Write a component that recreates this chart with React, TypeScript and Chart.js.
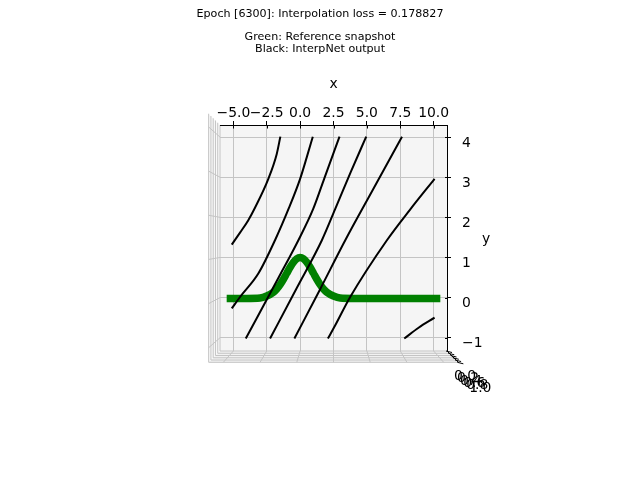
import React, { useEffect, useRef } from "react";
import { Chart, registerables } from "chart.js";

Chart.register(...registerables);

const titleText = "Epoch [6300]: Interpolation loss = 0.178827";
const subtitleLines = ["Green: Reference snapshot", "Black: InterpNet output"];

const xTicks = [-5, -2.5, 0, 2.5, 5, 7.5, 10];
const yTicks = [-1, 0, 1, 2, 3, 4];
const zTicks = ["0.0", "0.2", "0.4", "0.6", "0.8", "1.0"];
const zLevels = [0, 0.2, 0.4, 0.6, 0.8, 1.0];

// Green: reference snapshot
const refX = [-5.5, -4, -3, -2.5, -2, -1.75, -1.5, -1.25, -1, -0.75, -0.5, -0.25, 0, 0.25, 0.5, 0.75, 1, 1.25, 1.5, 1.75, 2, 2.5, 3, 4, 10.5];
const refY = [-0.02, -0.02, -0.01, 0.04, 0.135, 0.216, 0.325, 0.458, 0.607, 0.755, 0.882, 0.969, 1, 0.969, 0.882, 0.755, 0.607, 0.458, 0.325, 0.216, 0.135, 0.04, -0.01, -0.02, -0.02];

// Black: InterpNet output curves
const curveAX = [-5.12, -4.5, -3.88, -3.38, -2.38, -1.75, -1.48];
const curveAY = [1.32, 1.62, 1.93, 2.24, 2.96, 3.58, 4.01];
const curveBX = [-5.12, -4.5, -3.13, -1.88, -0.83, 0, 0.5, 0.95];
const curveBY = [-0.27, 0.015, 0.6, 1.43, 2.24, 2.96, 3.5, 4.01];
const curveCX = [-4.07, -1.61, -0.13, 0.98, 1.8, 2.95];
const curveCY = [-1.02, 0.5, 1.43, 2.21, 2.96, 4.01];
const curveDX = [-2.25, -0.3, 1.63, 2.63, 3.78, 4.95];
const curveDY = [-1.02, 0.21, 1.43, 2.21, 3.12, 4.01];
const curveEX = [-0.43, 1.5, 3.38, 5.5, 7.63];
const curveEY = [-1.02, 0.21, 1.43, 2.72, 4.01];
const curveFX = [2.08, 2.63, 3.75, 6.5, 8.25, 10.07];
const curveFY = [-1.02, -0.69, 0.015, 1.43, 2.2, 2.96];
const curveGX = [7.8, 8.87, 10.07];
const curveGY = [-1.02, -0.75, -0.5];

const blackCurves = [
  [curveAX, curveAY],
  [curveBX, curveBY],
  [curveCX, curveCY],
  [curveDX, curveDY],
  [curveEX, curveEY],
  [curveFX, curveFY],
  [curveGX, curveGY],
];

const FONT = "DejaVu Sans";
const TICK_SIZE = 13.9;
const TITLE_SIZE = 11.1;

const fmtMinus = (v: number, digits: number) => {
  const s = v.toFixed(digits);
  return s.startsWith("-") ? "\u2212" + s.slice(1) : s;
};

const box3d = {
  id: "box3d",
  beforeDraw(chart: any) {
    const { ctx, chartArea: a } = chart;
    const cx = (a.left + a.right) / 2;
    const cy = (a.top + a.bottom) / 2;
    const sc = (v: number, c: number, s: number) => c + (v - c) * s;
    const S = 1.1;
    const L1 = sc(a.left, cx, S), R1 = sc(a.right, cx, S);
    const T1 = sc(a.top, cy, S), B1 = sc(a.bottom, cy, S);
    ctx.save();
    ctx.fillStyle = "#f9f9f9";
    ctx.beginPath();
    ctx.moveTo(a.left, a.top);
    ctx.lineTo(L1, T1);
    ctx.lineTo(L1, B1);
    ctx.lineTo(a.left, a.bottom);
    ctx.closePath();
    ctx.fill();
    ctx.fillStyle = "#f2f2f2";
    ctx.beginPath();
    ctx.moveTo(a.left, a.bottom);
    ctx.lineTo(L1, B1);
    ctx.lineTo(R1, B1);
    ctx.lineTo(a.right, a.bottom);
    ctx.closePath();
    ctx.fill();
    ctx.fillStyle = "#f5f5f5";
    ctx.fillRect(a.left, a.top, a.right - a.left, a.bottom - a.top);
    ctx.strokeStyle = "#c4c4c4";
    ctx.lineWidth = 1;
    zLevels.forEach((t) => {
      const s = 1 + (S - 1) * t;
      ctx.beginPath();
      ctx.moveTo(sc(a.left, cx, s), sc(a.top, cy, s));
      ctx.lineTo(sc(a.left, cx, s), sc(a.bottom, cy, s));
      ctx.lineTo(sc(a.right, cx, s), sc(a.bottom, cy, s));
      ctx.stroke();
    });
    const xs = chart.scales.x, ys = chart.scales.y;
    yTicks.forEach((v) => {
      const py = ys.getPixelForValue(v);
      ctx.beginPath();
      ctx.moveTo(a.left, py);
      ctx.lineTo(L1, sc(py, cy, S));
      ctx.stroke();
    });
    xTicks.forEach((v) => {
      const px = xs.getPixelForValue(v);
      ctx.beginPath();
      ctx.moveTo(px, a.bottom);
      ctx.lineTo(sc(px, cx, S), B1);
      ctx.stroke();
    });
    ctx.restore();
  },
  afterDraw(chart: any) {
    const { ctx, chartArea: a } = chart;
    const cx = (a.left + a.right) / 2;
    const cy = (a.top + a.bottom) / 2;
    const sc = (v: number, c: number, s: number) => c + (v - c) * s;
    const S = 1.1;
    const xs = chart.scales.x, ys = chart.scales.y;
    ctx.save();
    ctx.strokeStyle = "#000";
    ctx.lineWidth = 1;
    // inner halves of the tick marks (3D ticks cross the axis line)
    xTicks.forEach((v) => {
      const px = Math.round(xs.getPixelForValue(v)) + 0.5;
      ctx.beginPath();
      ctx.moveTo(px, a.top);
      ctx.lineTo(px, a.top + 3.5);
      ctx.stroke();
    });
    yTicks.forEach((v) => {
      const py = Math.round(ys.getPixelForValue(v)) + 0.5;
      ctx.beginPath();
      ctx.moveTo(a.right - 2, py);
      ctx.lineTo(a.right, py);
      ctx.stroke();
    });
    // z axis line + ticks
    ctx.beginPath();
    ctx.moveTo(a.right, a.bottom);
    ctx.lineTo(sc(a.right, cx, S), sc(a.bottom, cy, S));
    ctx.stroke();
    zLevels.forEach((t) => {
      const s = 1 + (S - 1) * t;
      const px = sc(a.right, cx, s), py = sc(a.bottom, cy, s);
      ctx.beginPath();
      ctx.moveTo(px - 1, py);
      ctx.lineTo(px + 5, py + 1.5);
      ctx.stroke();
    });
    ctx.fillStyle = "#000";
    ctx.font = `${TICK_SIZE}px "${FONT}"`;
    ctx.textAlign = "center";
    ctx.textBaseline = "middle";
    zLevels.forEach((t, i) => {
      const s = 1 + (S - 1) * t;
      const px = sc(a.right, cx, s), py = sc(a.bottom, cy, s);
      ctx.fillText(zTicks[i], px + 18 + 4 * t, py + 25 + t);
    });
    ctx.fillText("y", a.right + 39, cy + 1);
    ctx.restore();
  },
};

export default function App() {
  const ref = useRef<HTMLCanvasElement | null>(null);
  useEffect(() => {
    if (!ref.current) return;
    Chart.defaults.font.family = FONT;
    const datasets: any[] = [
      {
        label: "Reference",
        data: refX.map((x, i) => ({ x, y: refY[i] })),
        borderColor: "#008000",
        backgroundColor: "#008000",
        borderWidth: 7.5,
        pointRadius: 0,
        showLine: true,
        cubicInterpolationMode: "monotone",
        order: 10,
      },
      ...blackCurves.map(([xs, ys], k) => ({
        label: "InterpNet " + k,
        data: xs.map((x, i) => ({ x, y: ys[i] })),
        borderColor: "#000",
        backgroundColor: "#000",
        borderWidth: 2,
        pointRadius: 0,
        showLine: true,
        cubicInterpolationMode: "monotone",
        order: 1,
      })),
    ];
    const chart = new Chart(ref.current, {
      type: "line",
      data: { datasets },
      options: {
        animation: false,
        responsive: false,
        layout: { padding: { left: 0, right: 0, top: 0, bottom: 129 } },
        plugins: {
          legend: { display: false },
          tooltip: { enabled: false },
          title: {
            display: true,
            text: titleText,
            color: "#000",
            font: { family: FONT, size: TITLE_SIZE, weight: "normal", lineHeight: 1.2 },
            padding: { top: 7.3, bottom: 0 },
          },
          subtitle: {
            display: true,
            text: subtitleLines,
            color: "#000",
            font: { family: FONT, size: TITLE_SIZE, weight: "normal", lineHeight: 1.05 },
            padding: { top: 10.6, bottom: 0 },
          },
        },
        scales: {
          x: {
            type: "linear",
            position: "top",
            min: -6,
            max: 11,
            afterFit: (s: any) => { s.height = 70.5; },
            afterBuildTicks: (s: any) => { s.ticks = xTicks.map((v) => ({ value: v })); },
            ticks: {
              color: "#000",
              font: { family: FONT, size: TICK_SIZE },
              padding: -1,
              maxRotation: 0,
              autoSkip: false,
              callback: (v: any) => fmtMinus(Number(v), 1),
            },
            grid: { color: "#c4c4c4", lineWidth: 1, tickColor: "#000", tickLength: 4, drawOnChartArea: true },
            border: { display: true, color: "#000", width: 1 },
            title: { display: true, text: "x", color: "#000", font: { family: FONT, size: TICK_SIZE }, padding: { top: 21.2, bottom: 0 } },
          },
          y: {
            type: "linear",
            position: "right",
            min: -1.33,
            max: 4.3,
            afterFit: (s: any) => { s.width = 193; },
            afterBuildTicks: (s: any) => { s.ticks = yTicks.map((v) => ({ value: v })); },
            ticks: {
              color: "#000",
              font: { family: FONT, size: TICK_SIZE },
              padding: 11,
              labelOffset: 6,
              autoSkip: false,
              callback: (v: any) => fmtMinus(Number(v), 0),
            },
            grid: { color: "#c4c4c4", lineWidth: 1, tickColor: "#000", tickLength: 4, drawOnChartArea: true },
            border: { display: true, color: "#000", width: 1 },
          },
          yl: {
            type: "linear",
            position: "left",
            min: 0,
            max: 1,
            display: true,
            afterFit: (s: any) => { s.width = 220; },
            ticks: { display: false },
            grid: { display: false },
            border: { display: false },
          },
        },
      },
      plugins: [box3d],
    });
    return () => chart.destroy();
  }, []);
  return (
    <div style={{ position: "fixed", left: 0, top: 0, width: 640, height: 480, background: "#fff" }}>
      <canvas ref={ref} width={640} height={480} style={{ width: 640, height: 480, display: "block" }} />
    </div>
  );
}
